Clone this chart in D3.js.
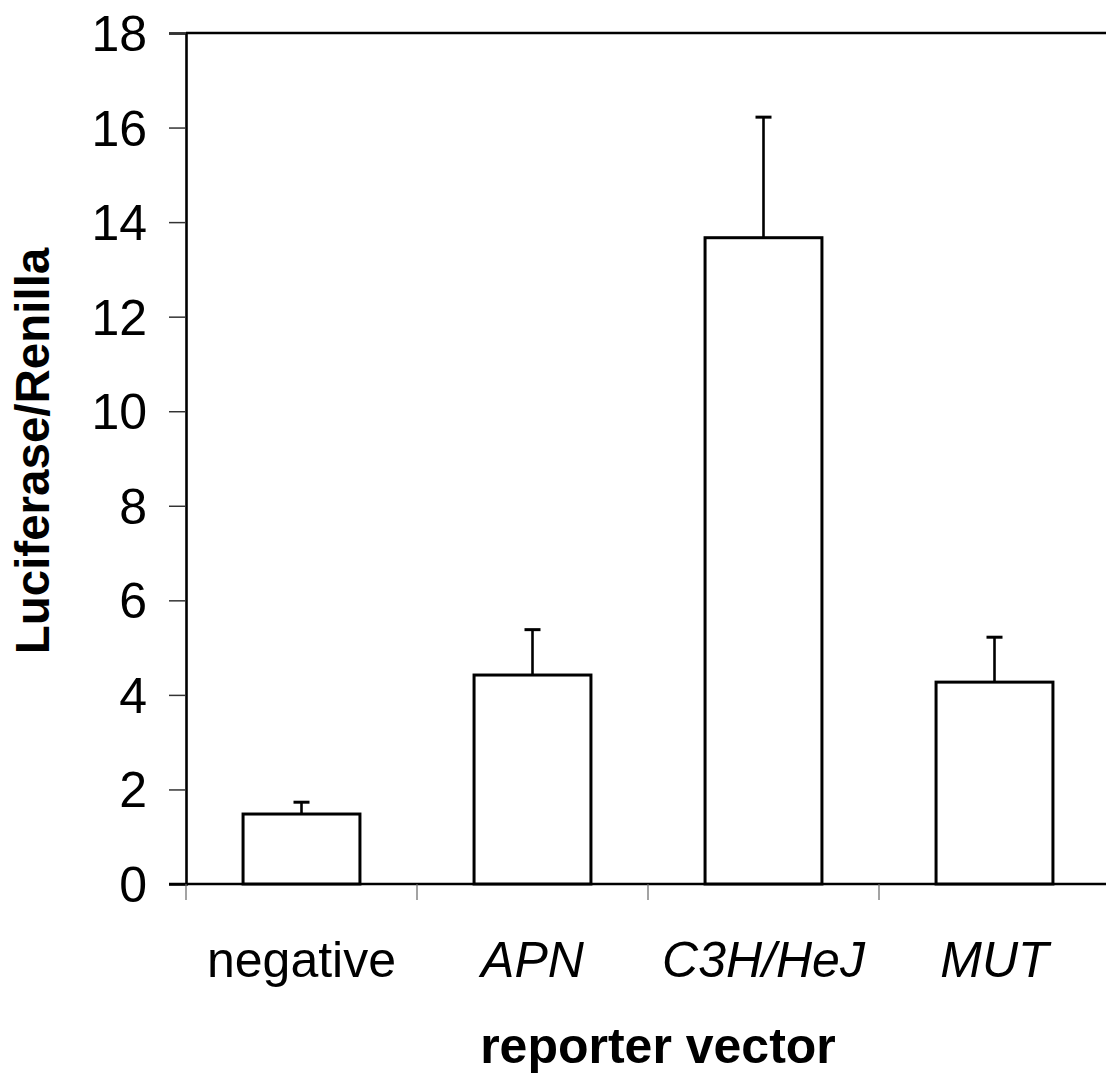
<!DOCTYPE html>
<html>
<head>
<meta charset="utf-8">
<script src="https://cdn.jsdelivr.net/npm/d3@7"></script>
<style>
  html, body { margin: 0; padding: 0; background: #fff; }
  svg { display: block; }
  text { font-family: "Liberation Sans", Arial, Helvetica, sans-serif; fill: #000; }
</style>
</head>
<body>
<svg id="chart" width="1106" height="1075"></svg>
<script>
// ---- data ----
const categories = ["negative", "APN", "C3H/HeJ", "MUT"];
const means = [1.48, 4.42, 13.67, 4.27];
const errorTops = [1.73, 5.38, 16.22, 5.22];
const yTicks = [0, 2, 4, 6, 8, 10, 12, 14, 16, 18];
const yTitle = "Luciferase/Renilla";
const xTitle = "reporter vector";

// ---- layout ----
const W = 1106, H = 1075;
const plotLeft = 186, plotTop = 33, plotBottom = 884, plotRight = 1110;

const svg = d3.select("#chart");

const y = d3.scaleLinear().domain([0, 18]).range([plotBottom, plotTop]);
const x = d3.scaleBand().domain(categories).range([plotLeft, plotRight])
  .paddingInner(0.494).paddingOuter(0.247);

// y axis
const yAxis = d3.axisLeft(y).tickValues(yTicks).tickSize(17).tickPadding(22).tickFormat(d3.format("d"));
const gy = svg.append("g").attr("transform", `translate(${plotLeft},0)`).call(yAxis);
gy.select(".domain").attr("stroke", "#000").attr("stroke-width", 2.6);
gy.selectAll(".tick line").attr("stroke", "#333").attr("stroke-width", 1.5);
gy.selectAll(".tick text")
  .style("font-family", '"Liberation Sans", Arial, sans-serif')
  .style("font-size", "50px").attr("fill", "#000").attr("dy", "0.35em");

// top frame line
svg.append("line")
  .attr("x1", plotLeft).attr("x2", W).attr("y1", y(18)).attr("y2", y(18))
  .attr("stroke", "#000").attr("stroke-width", 2.6);

// x axis line
svg.append("line")
  .attr("x1", plotLeft - 17).attr("x2", W).attr("y1", y(0)).attr("y2", y(0))
  .attr("stroke", "#000").attr("stroke-width", 2.6);

// category boundary ticks
const boundaries = d3.range(categories.length + 1).map(i => x.range()[0] + i * x.step());
svg.append("g").selectAll("line").data(boundaries).join("line")
  .attr("x1", d => d).attr("x2", d => d)
  .attr("y1", y(0)).attr("y2", y(0) + 16)
  .attr("stroke", "#666").attr("stroke-width", 1.2);

// bars
svg.append("g").selectAll("rect").data(categories).join("rect")
  .attr("x", d => x(d))
  .attr("y", (d, i) => y(means[i]))
  .attr("width", x.bandwidth())
  .attr("height", (d, i) => y(0) - y(means[i]))
  .attr("fill", "#fff").attr("stroke", "#000").attr("stroke-width", 3);

// error bars (upper only)
const eg = svg.append("g");
categories.forEach((c, i) => {
  const cx = x(c) + x.bandwidth() / 2;
  eg.append("line")
    .attr("x1", cx).attr("x2", cx)
    .attr("y1", y(means[i])).attr("y2", y(errorTops[i]))
    .attr("stroke", "#000").attr("stroke-width", 2.6);
  eg.append("line")
    .attr("x1", cx - 8).attr("x2", cx + 8)
    .attr("y1", y(errorTops[i])).attr("y2", y(errorTops[i]))
    .attr("stroke", "#000").attr("stroke-width", 3);
});

// category labels
svg.append("g").selectAll("text").data(categories).join("text")
  .attr("x", d => x(d) + x.bandwidth() / 2)
  .attr("y", 977)
  .attr("text-anchor", "middle")
  .style("font-size", "50px")
  .style("font-style", (d, i) => i === 0 ? "normal" : "italic")
  .text(d => d);

// axis titles
svg.append("text")
  .attr("x", 658).attr("y", 1063)
  .attr("text-anchor", "middle")
  .style("font-size", "50px").style("font-weight", "bold")
  .text(xTitle);

svg.append("text")
  .attr("transform", `translate(49,451) rotate(-90)`)
  .attr("text-anchor", "middle")
  .style("font-size", "47.5px").style("font-weight", "bold")
  .text(yTitle);
</script>
</body>
</html>
